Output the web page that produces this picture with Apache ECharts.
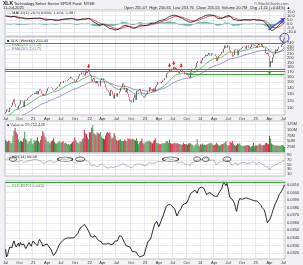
<!DOCTYPE html>
<html><head><meta charset="utf-8">
<script src="https://cdn.jsdelivr.net/npm/echarts@6/dist/echarts.min.js"></script>
<style>html,body{margin:0;padding:0;background:#f1f1f5}#c{width:303px;height:265px}</style>
</head><body><div id="c"></div>
<script>
// ---------- DATA (weekly, first week ending 2020-07-03) ----------
const firstWeek = '2020-07-03';
const prevClose = 103.0;
const closes = [
// 2020
104.5,108.0,106.5,104.8,110.5,111.0,113.0,118.0,122.0,115.5,111.5,109.0,113.0,114.5,120.5,119.8,118.5,111.5,120.5,120.0,120.8,123.5,125.0,125.5,127.5,128.5,
// 2021
129.7,132.0,130.0,134.5,129.6,135.5,137.6,135.5,130.6,127.8,130.5,129.2,131.0,134.8,139.2,140.6,140.8,139.5,136.8,135.4,136.5,138.3,139.8,142.0,142.2,146.5,150.4,150.2,148.7,152.0,151.5,152.5,154.0,155.8,157.0,159.6,157.0,154.8,155.2,149.6,150.8,155.0,156.4,161.0,165.0,164.3,168.7,164.8,162.2,172.5,167.2,171.5,173.9,
// 2022
165.0,162.5,151.5,155.0,157.5,151.0,147.8,151.5,147.5,142.5,153.6,157.0,157.2,152.0,147.0,140.5,137.0,135.8,133.0,126.8,136.5,134.5,128.5,123.0,131.0,126.0,131.5,131.0,134.0,140.0,141.0,147.5,144.8,136.0,132.8,139.0,130.2,125.0,119.0,120.5,117.5,124.0,129.0,121.0,135.0,134.0,136.0,138.0,133.5,128.0,127.0,124.5,
// 2023
126.0,129.5,130.5,134.0,141.0,137.0,138.0,134.0,139.0,134.5,142.0,145.0,150.5,149.8,149.5,148.0,150.0,152.8,153.5,157.0,166.0,168.0,169.0,175.5,172.0,176.0,174.0,180.0,175.0,178.5,173.0,170.0,167.0,170.5,174.5,171.0,170.0,164.0,164.0,167.0,165.5,160.0,157.5,168.5,173.5,176.0,176.0,177.0,180.5,189.0,192.0,192.0,
// 2024
188.0,195.0,200.5,201.5,204.0,208.0,205.0,208.5,213.0,206.0,206.5,212.0,210.5,210.0,205.0,193.0,200.0,205.0,207.0,210.0,216.0,214.0,224.0,233.0,226.0,227.0,233.5,232.0,220.0,214.0,204.0,207.0,222.0,223.5,222.0,207.0,219.0,222.0,224.0,226.0,229.5,230.0,229.0,224.0,233.0,226.5,226.0,229.0,236.0,237.5,232.5,234.5,
// 2025
232.0,227.5,233.5,238.5,233.0,232.5,238.0,229.0,226.0,213.0,210.0,213.5,205.0,180.0,193.0,189.5,202.0,209.5,210.5,222.0,218.0,224.0,228.5,229.0,235.0,244.5,251.0,255.46
];
const volumes = [ // millions of shares
55,48,45,52,50,40,42,70,95,108,88,80,58,45,52,48,45,62,92,60,52,38,45,50,62,35,
40,55,48,52,65,48,42,55,72,95,85,70,58,45,48,42,40,48,52,62,45,40,38,42,45,48,40,45,48,40,42,38,35,36,33,36,40,45,50,65,55,45,42,40,48,45,58,62,100,85,80,65,58,
90,88,110,122,85,80,75,88,85,82,90,70,62,60,58,75,85,90,85,88,70,60,65,85,72,55,50,52,55,58,50,48,50,55,52,48,62,58,60,55,60,58,55,52,62,48,35,45,48,60,42,35,
42,45,48,50,52,45,42,40,48,55,62,42,40,38,35,36,40,40,38,42,50,48,42,55,40,38,36,40,42,38,40,38,36,35,34,33,42,36,35,36,33,38,40,38,35,30,22,32,35,58,33,25,
35,33,38,34,33,32,34,35,38,40,42,38,30,32,34,42,36,30,28,30,35,36,38,42,48,32,28,32,45,42,50,38,32,28,30,38,35,40,30,28,26,30,27,30,32,30,28,22,26,28,42,25,
30,28,32,34,38,30,28,32,30,40,42,38,35,72,60,38,34,32,28,30,27,30,28,26,32,30,28,24
];
const ratio = [ // XLK:$SPX
0.0325,0.0315,0.0318,0.0324,0.0328,0.0330,0.0327,0.0333,0.0336,0.0331,
0.0328,0.0330,0.0333,0.0329,0.0334,0.0331,0.0329,0.0332,0.0330,0.0326,
0.0328,0.0331,0.0334,0.0332,0.0329,0.0333,0.0336,0.0336,0.0332,0.0330,
0.0330,0.0335,0.0338,0.0338,0.0333,0.0329,0.0328,0.0331,0.0333,0.0332,
0.0330,0.0328,0.0328,0.0324,0.0320,0.0317,0.0319,0.0320,0.0321,0.0326,
0.0330,0.0332,0.0334,0.0336,0.0337,0.0338,0.0339,0.0340,0.0340,0.0341,
0.0340,0.0339,0.0340,0.0341,0.0340,0.0342,0.0343,0.0343,0.0346,0.0350,
0.0353,0.0351,0.0355,0.0356,0.0358,0.0358,0.0354,0.0352,0.0349,0.0346,
0.0342,0.0340,0.0341,0.0343,0.0343,0.0341,0.0339,0.0338,0.0336,0.0338,
0.0335,0.0332,0.0330,0.0332,0.0334,0.0332,0.0331,0.0333,0.0332,0.0331,
0.0333,0.0332,0.0334,0.0336,0.0334,0.0336,0.0339,0.0343,0.0345,0.0342,
0.0339,0.0336,0.0333,0.0330,0.0328,0.0329,0.0327,0.0328,0.0325,0.0322,
0.0321,0.0322,0.0320,0.0321,0.0318,0.0316,0.0315,0.0314,0.0316,0.0318,
0.0317,0.0322,0.0327,0.0332,0.0336,0.0335,0.0338,0.0342,0.0348,0.0353,
0.0358,0.0360,0.0362,0.0358,0.0355,0.0356,0.0362,0.0366,0.0369,0.0371,
0.0378,0.0382,0.0383,0.0384,0.0385,0.0384,0.0383,0.0381,0.0382,0.0378,
0.0373,0.0369,0.0372,0.0375,0.0375,0.0379,0.0383,0.0384,0.0385,0.0386,
0.0386,0.0387,0.0392,0.0396,0.0399,0.0398,0.0401,0.0401,0.0403,0.0402,
0.0399,0.0403,0.0406,0.0408,0.0407,0.0405,0.0406,0.0403,0.0400,0.0397,
0.0398,0.0400,0.0401,0.0399,0.0398,0.0396,0.0397,0.0395,0.0394,0.0395,
0.0398,0.0401,0.0401,0.0405,0.0410,0.0414,0.0413,0.0409,0.0412,0.0406,
0.0398,0.0393,0.0392,0.0391,0.0390,0.0386,0.0380,0.0375,0.0382,0.0389,
0.0392,0.0393,0.0391,0.0390,0.0392,0.0391,0.0393,0.0393,0.0392,0.0390,
0.0391,0.0392,0.0390,0.0390,0.0389,0.0388,0.0389,0.0387,0.0386,0.0386,
0.0383,0.0380,0.0379,0.0377,0.0372,0.0366,0.0360,0.0362,0.0364,0.0367,
0.0371,0.0376,0.0380,0.0384,0.0387,0.0390,0.0393,0.0397,0.0399,0.0401,
0.0404,0.0407,0.0410
];
const priceTicks = [110,120,130,140,150,160,170,180,190,200,210,220,230,240,250];
const volTicks = [25,50,75,100,125];
const macdTicks = [-10,-5,0,5,10,15];
const rsiTicks = [10,30,50,70,90];
const ratioTicks = [0.0320,0.0330,0.0340,0.0350,0.0360,0.0370,0.0380,0.0390,0.0400,0.0410];
const resistanceLevels = [238,176,170];
const supportLevel = 165;
const ratioLine = 0.04142;
const seeds = {ema12:100, ema26:90, signal:9.5, ema20:98, ema50:88, gain:2.6, loss:1.0};
const topArrows = [78,154,158,165];   // week indexes marked with red arrows
const bottomArrows = [248];           // green arrow
const rsiCircles = [[7,7],[56,15],[70,9],[155,16],[180,7],[188,7],[208,8]]; // [week index, width]

// ---------- derived ----------
const N = closes.length;
const dates = [];
{ let t = Date.UTC(2020,6,3); for (let i=0;i<N;i++){ dates.push(new Date(t).toISOString().slice(0,10)); t += 7*864e5; } }
const MON = ['Jan','Feb','Mar','Apr','May','Jun','Jul','Aug','Sep','Oct','Nov','Dec'];
const qStart = dates.map(s=>{const m=+s.slice(5,7)-1, d=+s.slice(8,10); return (m%3===0) && d<=7;});
const qLabel = s=>{const m=+s.slice(5,7)-1; return m===0 ? s.slice(2,4) : MON[m];};
function ema(arr,n,seed){const k=2/(n+1);let e=seed;return arr.map(v=>(e=v*k+e*(1-k)));}
const e12=ema(closes,12,seeds.ema12), e26=ema(closes,26,seeds.ema26);
const macd=e12.map((v,i)=>v-e26[i]);
const sig=ema(macd,9,seeds.signal);
const hist=macd.map((v,i)=>v-sig[i]);
const e20=ema(closes,20,seeds.ema20), e50=ema(closes,50,seeds.ema50);
const opens=closes.map((c,i)=>i===0?prevClose:closes[i-1]);
const L=Math.log;
const candle=closes.map((c,i)=>{const o=opens[i];return [L(o),L(c),L(Math.min(o,c)),L(Math.max(o,c))];});
let ag=seeds.gain, al=seeds.loss;
const rsi=closes.map((c,i)=>{const ch=c-opens[i];ag=(ag*13+Math.max(ch,0))/14;al=(al*13+Math.max(-ch,0))/14;return 100-100/(1+ag/al);});
const volData=volumes.map((v,i)=>({value:v,itemStyle:{color:closes[i]>=opens[i]?'#3f9a4a':'#c8233f'}}));

const FONT='Liberation Sans, Arial, sans-serif';
const lab = (extra)=>Object.assign({fontSize:4,color:'#333',fontFamily:FONT,margin:2},extra||{});
const grids=[
 {left:5,right:18,top:10,height:26},
 {left:5,right:18,top:37,height:78},
 {left:5,right:18,top:121,height:31},
 {left:5,right:18,top:153,height:23},
 {left:5,right:18,top:181,height:79}
].map(g=>Object.assign(g,{show:true,backgroundColor:'#fff',borderColor:'#9a9aa8',borderWidth:0.6}));
const xAxes=grids.map((g,i)=>({
  type:'category',gridIndex:i,data:dates,boundaryGap:true,
  axisLine:{show:false},axisTick:{show:false},
  axisLabel:Object.assign(lab({fontSize:4}),{show:i===1||i===4,interval:(k)=>qStart[k],formatter:qLabel,margin:2}),
  splitLine:{show:true,interval:(k)=>qStart[k],lineStyle:{color:'#dcdce8',width:0.6}}
}));
function yAx(i,min,max,ticks,fmt,extra){
  return Object.assign({type:'value',gridIndex:i,position:'right',min,max,scale:true,
    axisLine:{show:false},axisTick:{show:false,customValues:ticks},
    axisLabel:Object.assign(lab(),{customValues:ticks,formatter:fmt}),
    splitLine:{show:true,lineStyle:{color:'#dcdce8',width:0.6}}},extra||{});
}
const yAxes=[
 yAx(0,-15,17,macdTicks,v=>v.toFixed(1)),
 yAx(1,L(101),L(258),priceTicks.map(L),v=>Math.round(Math.exp(v))),
 yAx(2,0,140,volTicks,v=>v+'M'),
 yAx(3,0,100,rsiTicks,v=>v),
 yAx(4,0.03122,0.04152,ratioTicks,v=>v.toFixed(4))
];
const downArrow='path://M3,0 L7,0 L7,5 L10,5 L5,10 L0,5 L3,5 Z';
const upArrow='path://M5,0 L10,5 L7,5 L7,10 L3,10 L3,5 L0,5 Z';
const ellipse='path://M0,5 C0,2.2 4.5,0 10,0 C15.5,0 20,2.2 20,5 C20,7.8 15.5,10 10,10 C4.5,10 0,7.8 0,5 Z';

const series=[
 {type:'line',xAxisIndex:0,yAxisIndex:0,data:hist,symbol:'none',lineStyle:{width:0.4,color:'#4f9e8a'},areaStyle:{color:'#5fae98',opacity:0.85},z:2},
 {type:'line',xAxisIndex:0,yAxisIndex:0,data:sig,symbol:'none',lineStyle:{width:0.8,color:'#d03040'},z:3},
 {type:'line',xAxisIndex:0,yAxisIndex:0,data:macd,symbol:'none',lineStyle:{width:0.8,color:'#111'},z:4,
  markLine:{silent:true,precision:6,symbol:['none','arrow'],symbolSize:4,label:{show:false},lineStyle:{color:'#4a3cc8',width:1.2,type:'solid'},
   data:[[{coord:[dates[N-16],-7.5]},{coord:[dates[N-1],7]}]]}},
 {type:'candlestick',xAxisIndex:1,yAxisIndex:1,data:candle,barWidth:1,
  itemStyle:{color:'#111',color0:'#d42030',borderColor:'#111',borderColor0:'#d42030',borderWidth:0.6},z:4,
  markLine:{silent:true,precision:6,symbol:'none',label:{show:false},lineStyle:{type:'solid',width:1,color:'#e04040'},
   data:resistanceLevels.map(p=>({yAxis:L(p)})).concat([[{coord:[dates[170],L(supportLevel)],lineStyle:{color:'#3aa83a',width:1}},{coord:[dates[N-1],L(supportLevel)]}]])},
  markPoint:{silent:true,label:{show:false},
   data:topArrows.map(i=>({coord:[dates[i],L(closes[i]*1.045)],symbol:downArrow,symbolSize:[3.5,4],itemStyle:{color:'#e02020'}}))
   .concat(bottomArrows.map(i=>({coord:[dates[i],L(closes[i]*0.93)],symbol:upArrow,symbolSize:[3.5,4],itemStyle:{color:'#2aa02a'}})))
   .concat([{coord:[dates[N-1],L(closes[N-1])],symbol:'circle',symbolSize:9,itemStyle:{color:'rgba(0,0,0,0)',borderColor:'#3a32b8',borderWidth:0.9}}])}},
 {type:'line',xAxisIndex:1,yAxisIndex:1,data:e20.map(L),symbol:'none',lineStyle:{width:0.7,color:'#3aa03a'},z:3},
 {type:'line',xAxisIndex:1,yAxisIndex:1,data:e50.map(L),symbol:'none',lineStyle:{width:0.7,color:'#7a6fb0'},z:3},
 {type:'bar',xAxisIndex:2,yAxisIndex:2,data:volData,barWidth:1,barGap:0},
 {type:'line',xAxisIndex:3,yAxisIndex:3,data:rsi,symbol:'none',lineStyle:{width:0.6,color:'#8a8a8a'},
  markPoint:{silent:true,label:{show:false},data:rsiCircles.map(([i,w])=>({coord:[dates[i],73],symbol:ellipse,symbolSize:[w,4.5],itemStyle:{color:'rgba(0,0,0,0)',borderColor:'#222',borderWidth:0.7}}))}},
 {type:'line',xAxisIndex:4,yAxisIndex:4,data:ratio,symbol:'none',z:10,lineStyle:{width:0.9,color:'#111'},
  markLine:{silent:true,precision:6,symbol:'none',label:{show:false},z:12,lineStyle:{type:'solid',color:'#3aa83a',width:1.1},
   data:[{yAxis:ratioLine}]}}
];
const f1=(t,x,y,o)=>({type:'text',x,y,style:{text:t,font:(o&&o.font)||('4px '+FONT),fill:(o&&o.fill)||'#222'}});
const graphic=[
 f1('XLK',3,1,{font:'bold 5px '+FONT}),
 f1('Technology Select Sector SPDR Fund  NYSE',14,1.5),
 f1('11-Jul-2025',3,6),
 f1('© StockCharts.com',254,1.5,{fill:'#555'}),
 f1('Open 255.07  High 256.65  Low 253.76  Close 255.55  Volume 20.7M  Chg +1.11 (+0.44%) ▲',124,5.5),
 f1('— MACD(12,26,9) '+macd[N-1].toFixed(3)+', '+sig[N-1].toFixed(3)+', '+hist[N-1].toFixed(3),7,11),
 f1('■ XLK (Weekly) 255.46',7,38.5,{fill:'#222'}),
 f1('— EMA(20) '+e20[N-1].toFixed(2),7,42.5,{fill:'#3aa03a'}),
 f1('— EMA(50) '+e50[N-1].toFixed(2),7,46.5,{fill:'#7a6fb0'}),
 f1('■ Volume 29,712,448',7,122.5),
 f1('— RSI(14) '+rsi[N-1].toFixed(2),7,154.5),
 f1('— XLK:$SPX '+ratio[N-1].toFixed(4),7,183.5,{fill:'#3a7a3a'})
];
const chart=echarts.init(document.getElementById('c'),null,{renderer:'canvas'});
chart.setOption({animation:false,backgroundColor:'#f1f1f5',grid:grids,xAxis:xAxes,yAxis:yAxes,series,graphic});
</script></body></html>
